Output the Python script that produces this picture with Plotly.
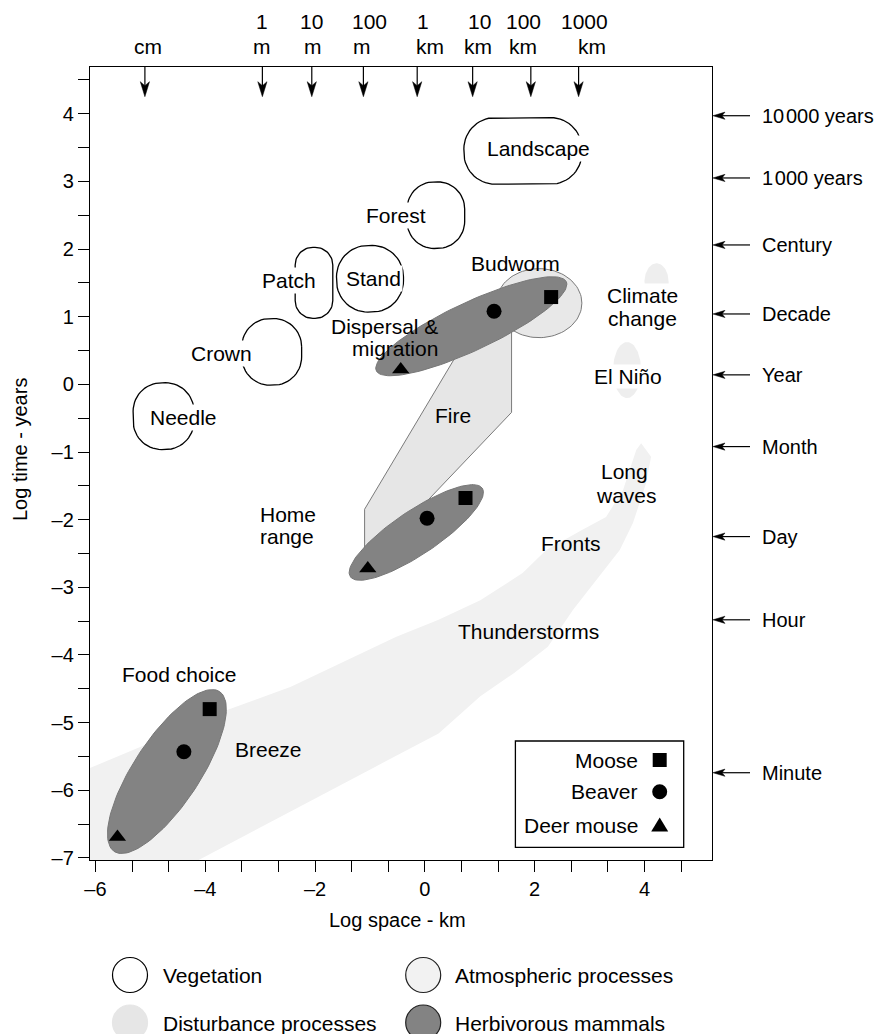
import numpy as np
import plotly.graph_objects as go

# ---------------- data ----------------
X_RANGE = [-6.10, 5.23]
Y_RANGE = [-7.03, 4.69]

species = ["Moose", "Beaver", "Deer mouse"]
moose_x = [2.30, 0.74, -3.92]
moose_y = [1.29, -1.68, -4.80]
beaver_x = [1.26, 0.04, -4.39]
beaver_y = [1.08, -1.98, -5.43]
deermouse_x = [-0.44, -1.04, -5.60]
deermouse_y = [0.22, -2.72, -6.69]

# herbivorous mammal ranges: ellipse end points (data) and half width (px)
mammal_tip1_x = [-0.885, -1.359, -5.658]
mammal_tip1_y = [0.201, -2.842, -6.904]
mammal_tip2_x = [2.576, 1.046, -3.740]
mammal_tip2_y = [1.516, -1.536, -4.541]
mammal_halfwidth_px = [24, 22, 33]

# vegetation rounded boxes
veg_names = ["Needle", "Crown", "Patch", "Stand", "Forest", "Landscape"]
veg_cx = [-4.76, -2.79, -2.02, -1.00, 0.20, 1.785]
veg_cy = [-0.47, 0.48, 1.50, 1.56, 2.50, 3.45]
veg_w = [1.11, 1.09, 0.685, 1.22, 1.05, 2.15]
veg_h = [0.99, 0.985, 1.05, 0.985, 0.985, 0.985]
veg_label_x = [-4.40, -3.70, -2.48, -0.93, -0.52, 2.07]
veg_label_y = [-0.49, 0.45, 1.54, 1.57, 2.50, 3.49]

# disturbance: fire polygon, budworm
fire_x = [-1.098, -1.098, 0.740, 1.579, 1.579, -0.097, -0.461]
fire_y = [-2.477, -1.846, 0.654, 0.950, -0.414, -1.842, -2.374]
budworm_cx, budworm_cy, budworm_rx, budworm_ry = 2.08, 1.20, 0.78, 0.51

# atmospheric processes: band + blobs
band_x = [-7.02, -6.10, -4.74, -3.59, -2.44, -1.29, -0.52, 0.25, 1.01, 1.78,
          2.21, 2.87, 3.30, 3.61, 3.85, 3.94, 4.12, 4.03, 3.79, 3.55, 3.12,
          2.70, 2.24, 1.62, 1.01, 0.25, -0.90, -2.05, -3.20, -4.12, -4.65, -7.02]
band_y = [-5.92, -5.67, -5.21, -4.81, -4.47, -4.02, -3.73, -3.48, -3.19, -2.79,
          -2.45, -2.15, -1.96, -1.56, -0.97, -0.87, -1.07, -1.46, -2.05, -2.45, -2.89,
          -3.33, -3.88, -4.27, -4.61, -5.16, -5.65, -6.14, -6.63, -7.03, -7.62, -7.62]
blob_cx = [3.683, 4.22]
blob_cy = [0.211, 1.51]
blob_rx = [0.255, 0.22]
blob_ry = [0.414, 0.28]

# in-plot labels (one entry per text line)
label_text = ["Budworm", "Dispersal &", "migration", "Fire", "Climate", "change",
              "El Niño", "Long", "waves", "Home", "range", "Fronts",
              "Thunderstorms", "Food choice", "Breeze"]
label_x = [1.648, 0.277, 0.277, 0.519, 3.971, 3.971, 3.698, 3.638, 3.668,
           -3.042, -3.042, 2.654, 1.889, -4.475, -2.840]
label_y = [1.787, 0.851, 0.532, -0.464, 1.319, 0.975, 0.112, -1.291, -1.650,
           -1.920, -2.251, -2.349, -3.654, -4.294, -5.402]
label_anchor = ["center", "right", "right", "center", "center", "center", "center",
                "center", "center", "left", "left", "center", "center", "center", "center"]
label_bg = [False, False, False, False, True, False, True, False, False,
            False, False, False, False, False, False]

# top spatial scale
top_arrow_x = [-5.10, -2.96, -2.06, -1.12, -0.14, 0.87, 1.93, 2.80]
top_num = ["", "1", "10", "100", "1", "10", "100", "1000"]
top_num_x = [-5.04, -2.96, -2.06, -1.01, -0.04, 1.00, 1.79, 2.90]
top_unit = ["cm", "m", "m", "m", "km", "km", "km", "km"]
top_unit_x = [-5.04, -2.96, -2.04, -1.15, 0.09, 0.96, 1.79, 3.05]

# right temporal scale
time_labels = ["10\u200a000 years", "1\u200a000 years", "Century", "Decade", "Year",
               "Month", "Day", "Hour", "Minute"]
time_y = [3.97, 3.05, 2.06, 1.04, 0.14, -0.92, -2.25, -3.48, -5.74]

legend_cats = ["Vegetation", "Atmospheric processes", "Disturbance processes", "Herbivorous mammals"]

# ---------------- layout geometry ----------------
OFF = 8                      # default page margin of the html body
W, H = 882 - OFF, 1034 - OFF
ML, MT = 90 - OFF, 67 - OFF
PW, PH = 622, 793
MR, MB = W - ML - PW, H - MT - PH
PXX = PW / (X_RANGE[1] - X_RANGE[0])
PXY = PH / (Y_RANGE[1] - Y_RANGE[0])
FONT = "Liberation Sans, Arial, Helvetica, sans-serif"
BLACK = "#000000"


def xpaper(xd):
    return (xd - X_RANGE[0]) / (X_RANGE[1] - X_RANGE[0])


def ypaper(yd):
    return (yd - Y_RANGE[0]) / (Y_RANGE[1] - Y_RANGE[0])


def px_x(px):  # screen pixel -> paper
    return (px - OFF - ML) / PW


def px_y(py):
    return (MT + PH - (py - OFF)) / PH


def rounded_rect(cx, cy, w, h, n=16):
    wp, hp = w * PXX, h * PXY
    r = 0.47 * min(wp, hp)
    hx, hy = wp / 2 - r, hp / 2 - r
    pts = []
    for ox, oy, a0 in [(hx, hy, 0), (-hx, hy, 90), (-hx, -hy, 180), (hx, -hy, 270)]:
        for t in np.linspace(a0, a0 + 90, n):
            pts.append((ox + r * np.cos(np.radians(t)), oy + r * np.sin(np.radians(t))))
    pts.append(pts[0])
    return [cx + p[0] / PXX for p in pts], [cy + p[1] / PXY for p in pts]


def ellipse_tips(x1, y1, x2, y2, b, n=120):
    p1 = np.array([x1 * PXX, y1 * PXY])
    p2 = np.array([x2 * PXX, y2 * PXY])
    c = (p1 + p2) / 2
    d = p2 - p1
    a = np.linalg.norm(d) / 2
    th = np.arctan2(d[1], d[0])
    t = np.linspace(0, 2 * np.pi, n)
    ex = c[0] + a * np.cos(t) * np.cos(th) - b * np.sin(t) * np.sin(th)
    ey = c[1] + a * np.cos(t) * np.sin(th) + b * np.sin(t) * np.cos(th)
    return ex / PXX, ey / PXY


def ellipse_axis(cx, cy, rx, ry, n=100):
    t = np.linspace(0, 2 * np.pi, n)
    return cx + rx * np.cos(t), cy + ry * np.sin(t)


fig = go.Figure()

# atmospheric band
fig.add_trace(go.Scatter(x=band_x, y=band_y, fill="toself", fillcolor="#f1f1f1",
                         mode="lines", line=dict(width=0, color="#f1f1f1"), hoverinfo="skip"))
for i in range(len(blob_cx)):
    bx, by = ellipse_axis(blob_cx[i], blob_cy[i], blob_rx[i], blob_ry[i])
    fig.add_trace(go.Scatter(x=bx, y=by, fill="toself", fillcolor="#eeeeee",
                             mode="lines", line=dict(width=0, color="#eeeeee"), hoverinfo="skip"))

# fire
fig.add_trace(go.Scatter(x=fire_x + [fire_x[0]], y=fire_y + [fire_y[0]], fill="toself",
                         fillcolor="#e6e6e6", mode="lines",
                         line=dict(width=1, color="#7a7a7a"), hoverinfo="skip"))
# budworm
bx, by = ellipse_axis(budworm_cx, budworm_cy, budworm_rx, budworm_ry)
fig.add_trace(go.Scatter(x=bx, y=by, fill="toself", fillcolor="#e8e8e8", mode="lines",
                         line=dict(width=1, color="#7a7a7a"), hoverinfo="skip"))

# mammal ellipses
for i in range(3):
    ex, ey = ellipse_tips(mammal_tip1_x[i], mammal_tip1_y[i], mammal_tip2_x[i],
                          mammal_tip2_y[i], mammal_halfwidth_px[i])
    fig.add_trace(go.Scatter(x=ex, y=ey, fill="toself", fillcolor="#838383", mode="lines",
                             line=dict(width=1, color="#777777"), hoverinfo="skip"))

# vegetation outlines
for i in range(len(veg_names)):
    vx, vy = rounded_rect(veg_cx[i], veg_cy[i], veg_w[i], veg_h[i])
    fig.add_trace(go.Scatter(x=vx, y=vy, mode="lines", line=dict(width=1.3, color=BLACK),
                             hoverinfo="skip"))

# species markers
fig.add_trace(go.Scatter(x=moose_x, y=moose_y, mode="markers", name="Moose",
                         marker=dict(symbol="square", size=14, color=BLACK)))
fig.add_trace(go.Scatter(x=beaver_x, y=beaver_y, mode="markers", name="Beaver",
                         marker=dict(symbol="circle", size=15, color=BLACK)))
fig.add_trace(go.Scatter(x=deermouse_x, y=deermouse_y, mode="markers", name="Deer mouse",
                         marker=dict(symbol="triangle-up", size=15, color=BLACK)))

annotations = []
shapes = []

# vegetation labels (white background breaks the outlines)
for i, name in enumerate(veg_names):
    annotations.append(dict(x=veg_label_x[i], y=veg_label_y[i], xref="x", yref="y",
                            text=name, showarrow=False, xanchor="center", yanchor="middle",
                            bgcolor="white", borderpad=1,
                            font=dict(size=21, family=FONT, color=BLACK)))

for i, t in enumerate(label_text):
    ann = dict(x=label_x[i], y=label_y[i], xref="x", yref="y", text=t, showarrow=False,
               xanchor=label_anchor[i], yanchor="middle",
               font=dict(size=21, family=FONT, color=BLACK))
    if label_bg[i]:
        ann.update(bgcolor="white", borderpad=0)
    annotations.append(ann)

# top arrows + labels
tip_py = 96.7
for i, xv in enumerate(top_arrow_x):
    xa = xpaper(xv)
    shapes.append(dict(type="line", xref="paper", yref="paper", x0=xa, x1=xa,
                       y0=1.0, y1=px_y(tip_py - 8), line=dict(color=BLACK, width=1.2)))
    shapes.append(dict(type="path", xref="paper", yref="paper", xsizemode="pixel",
                       ysizemode="pixel", xanchor=xa, yanchor=px_y(tip_py),
                       path="M0,0 L-4.6,15 L0,11 L4.6,15 Z", fillcolor=BLACK,
                       line=dict(color=BLACK, width=0.5)))
    if top_num[i]:
        annotations.append(dict(x=xpaper(top_num_x[i]), y=px_y(22), xref="paper", yref="paper",
                                text=top_num[i], showarrow=False, xanchor="center",
                                yanchor="middle", font=dict(size=21, family=FONT, color=BLACK)))
    annotations.append(dict(x=xpaper(top_unit_x[i]), y=px_y(47), xref="paper", yref="paper",
                            text=top_unit[i], showarrow=False, xanchor="center",
                            yanchor="middle", font=dict(size=21, family=FONT, color=BLACK)))

# right arrows + labels
for i, yv in enumerate(time_y):
    ya = ypaper(yv)
    shapes.append(dict(type="line", xref="paper", yref="paper", x0=1.0 + 6 / PW,
                       x1=px_x(750), y0=ya, y1=ya, line=dict(color=BLACK, width=1.2)))
    shapes.append(dict(type="path", xref="paper", yref="paper", xsizemode="pixel",
                       ysizemode="pixel", xanchor=1.0, yanchor=ya,
                       path="M1,0 L13,3.6 L10,0 L13,-3.6 Z", fillcolor=BLACK,
                       line=dict(color=BLACK, width=0.5)))
    annotations.append(dict(x=px_x(760), y=ya, xref="paper", yref="paper",
                            text=time_labels[i], showarrow=False, xanchor="left",
                            yanchor="middle", font=dict(size=20, family=FONT, color=BLACK)))

# inner species legend
shapes.append(dict(type="rect", xref="paper", yref="paper", x0=px_x(515.4), x1=px_x(683.7),
                   y0=px_y(847.3), y1=px_y(741), line=dict(color=BLACK, width=1.3),
                   fillcolor="white"))
leg_rows_py = [760, 791.7, 825]
sym_x = px_x(659.7)
for i, sp in enumerate(species):
    annotations.append(dict(x=px_x(639.5), y=px_y(leg_rows_py[i]), xref="paper", yref="paper",
                            text=sp, showarrow=False, xanchor="right", yanchor="middle",
                            font=dict(size=21, family=FONT, color=BLACK)))
shapes.append(dict(type="rect", xref="paper", yref="paper", xsizemode="pixel", ysizemode="pixel",
                   xanchor=sym_x, yanchor=px_y(leg_rows_py[0]), x0=-7, x1=7, y0=-7, y1=7,
                   fillcolor=BLACK, line=dict(width=0)))
shapes.append(dict(type="circle", xref="paper", yref="paper", xsizemode="pixel", ysizemode="pixel",
                   xanchor=sym_x, yanchor=px_y(leg_rows_py[1]), x0=-7.5, x1=7.5, y0=-7.5, y1=7.5,
                   fillcolor=BLACK, line=dict(width=0)))
shapes.append(dict(type="path", xref="paper", yref="paper", xsizemode="pixel", ysizemode="pixel",
                   xanchor=sym_x, yanchor=px_y(leg_rows_py[2]),
                   path="M-8.5,-6.5 L8.5,-6.5 L0,7.5 Z", fillcolor=BLACK, line=dict(width=0)))

# bottom category legend
leg_fill = ["white", "#f2f2f2", "#e6e6e6", "#838383"]
leg_line = [BLACK, "#222222", "#e6e6e6", "#222222"]
leg_cx = [130, 423.2, 130, 423.2]
leg_cy = [975, 975, 1022.5, 1022.5]
leg_tx = [161.4, 452.8, 161.4, 452.8]
for i, cat in enumerate(legend_cats):
    shapes.append(dict(type="circle", xref="paper", yref="paper", xsizemode="pixel",
                       ysizemode="pixel", xanchor=px_x(leg_cx[i]), yanchor=px_y(leg_cy[i]),
                       x0=-17.5, x1=17.5, y0=-17.5, y1=17.5, fillcolor=leg_fill[i],
                       line=dict(color=leg_line[i], width=1.2)))
    annotations.append(dict(x=px_x(leg_tx[i]), y=px_y(leg_cy[i] + 0.5), xref="paper", yref="paper",
                            text=cat, showarrow=False, xanchor="left", yanchor="middle",
                            font=dict(size=21, family=FONT, color=BLACK)))

# axis titles
annotations.append(dict(x=px_x(397.5), y=px_y(920), xref="paper", yref="paper",
                        text="Log space - km", showarrow=False, xanchor="center",
                        yanchor="middle", font=dict(size=20, family=FONT, color=BLACK)))
annotations.append(dict(x=px_x(20), y=px_y(450), xref="paper", yref="paper",
                        text="Log time - years", showarrow=False, xanchor="center",
                        yanchor="middle", textangle=-90,
                        font=dict(size=20, family=FONT, color=BLACK)))

# ticks
xt = [round(-6 + k * 2 / 3, 4) for k in range(17)]
xt_text = []
for v in xt:
    if abs(v - round(v)) < 1e-6 and int(round(v)) % 2 == 0:
        iv = int(round(v))
        xt_text.append(("\u2013" + str(-iv)) if iv < 0 else str(iv))
    else:
        xt_text.append("")
yt = [-7 + 0.5 * k for k in range(24)]
yt_text = []
for v in yt:
    if abs(v - round(v)) < 1e-6:
        iv = int(round(v))
        yt_text.append(("\u2013" + str(-iv)) if iv < 0 else str(iv))
    else:
        yt_text.append("")

axis_common = dict(showgrid=False, zeroline=False, showline=True, mirror=True,
                   linecolor=BLACK, linewidth=1.3, ticks="outside", ticklen=11,
                   tickwidth=1, tickcolor=BLACK,
                   tickfont=dict(size=20, family=FONT, color=BLACK))

fig.update_layout(
    width=W, height=H, autosize=False,
    margin=dict(l=ML, r=MR, t=MT, b=MB, pad=0),
    paper_bgcolor="white", plot_bgcolor="white",
    showlegend=False,
    xaxis=dict(range=X_RANGE, tickmode="array", tickvals=xt, ticktext=xt_text, **axis_common),
    yaxis=dict(range=Y_RANGE, tickmode="array", tickvals=yt, ticktext=yt_text, **axis_common),
    annotations=annotations,
    shapes=shapes,
)

fig.write_html("out.html")
